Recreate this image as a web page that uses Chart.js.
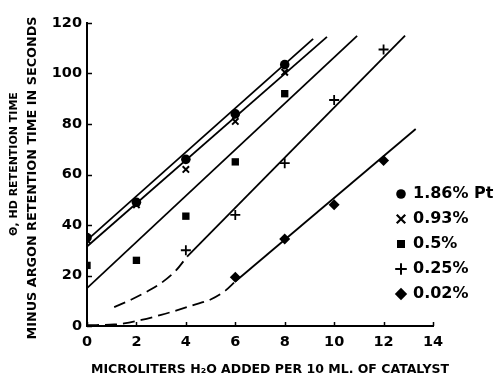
<!DOCTYPE html>
<html>
<head>
<meta charset="utf-8">
<script src="https://cdn.jsdelivr.net/npm/chart.js@4.4.1/dist/chart.umd.min.js"></script>
<style>
html,body{margin:0;padding:0;background:#fff;}
#wrap{position:relative;width:502px;height:382px;}
</style>
</head>
<body>
<div id="wrap"><canvas id="c" width="502" height="382"></canvas></div>
<script>
// ---- Data ----
const xTickValues = [0, 2, 4, 6, 8, 10, 12, 14];
const yTickValues = [0, 20, 40, 60, 80, 100, 120];

const waterHigh = [0, 2, 4, 6, 8];          // µl H2O for 1.86 %, 0.93 %, 0.5 %
const pt186 = [35, 49, 66, 84, 103.5];
const pt093 = [34, 48, 62, 81, 100.5];
const pt05  = [24, 26, 43.5, 65, 92];
const water025 = [4, 6, 8, 10, 12];
const pt025 = [30, 44, 64.5, 89.5, 109.5];
const water002 = [6, 8, 10, 12];
const pt002 = [19.3, 34.5, 48, 65.5];

// hand-drawn curves (end points / traced points)
const fit186X = [0, 9.15];   const fit186Y = [34, 113.7];
const fit093X = [0, 9.71];   const fit093Y = [31.5, 114.5];
const fit05X  = [0, 10.93];  const fit05Y  = [15, 114.9];
const dash025X = [1.1, 1.8, 2.4, 3.0, 3.6, 4.05];
const dash025Y = [7.5, 10.5, 13.5, 17, 22, 27.5];
const fit025X = [4.05, 12.87]; const fit025Y = [27.5, 115];
const dash002X = [0, 1.1, 1.5, 2.2, 3.0, 3.6, 4.3, 5.0, 5.6, 6.0];
const dash002Y = [0.3, 0.6, 1.0, 2.4, 4.4, 6.1, 8.3, 10.5, 14.0, 17.6];
const fit002X = [6.0, 13.3];  const fit002Y = [17.6, 78];

const legendLabels = ['1.86% Pt', '0.93%', '0.5%', '0.25%', '0.02%'];
const legendStyles = ['circle', 'crossRot', 'rect', 'cross', 'rectRot'];

const xTitle = 'MICROLITERS H\u2082O ADDED PER 10 ML. OF CATALYST';
const yTitle1 = '\u0398, HD RETENTION TIME';
const yTitle2 = 'MINUS ARGON RETENTION TIME IN SECONDS';

// ---- helpers ----
const zip = (xs, ys) => xs.map((x, i) => ({x: x, y: ys[i]}));
const FONT = 'DejaVu Sans';

function lineDs(xs, ys, dashed, smooth) {
  return {
    type: 'line', data: zip(xs, ys), showLine: true,
    borderColor: '#000', borderWidth: 1.8, pointRadius: 0,
    borderDash: dashed ? [12, 6] : [], fill: false,
    tension: smooth ? 0.4 : 0, cubicInterpolationMode: smooth ? 'monotone' : 'default',
    order: 2
  };
}
function ptDs(xs, ys, style, r, bw) {
  return {
    type: 'scatter', data: zip(xs, ys), showLine: false,
    pointStyle: style, pointRadius: r, pointHoverRadius: r,
    backgroundColor: '#000', borderColor: '#000', borderWidth: bw,
    order: 1
  };
}

const decor = {
  id: 'decor',
  afterDraw(chart) {
    const ctx = chart.ctx;
    const xs = chart.scales.x, ys = chart.scales.y;
    const area = chart.chartArea;
    ctx.save();
    ctx.strokeStyle = '#000';
    ctx.fillStyle = '#000';
    // inward ticks
    ctx.lineWidth = 1.5;
    yTickValues.forEach(v => {
      const py = Math.round(ys.getPixelForValue(v)) + 0.5;
      ctx.beginPath(); ctx.moveTo(area.left, py); ctx.lineTo(area.left + 5, py); ctx.stroke();
    });
    xTickValues.forEach(v => {
      const px = Math.round(xs.getPixelForValue(v)) + 0.5;
      ctx.beginPath(); ctx.moveTo(px, area.bottom); ctx.lineTo(px, area.bottom - 4); ctx.stroke();
    });
    // axis titles
    ctx.textAlign = 'center';
    ctx.textBaseline = 'middle';
    ctx.font = 'bold 12.5px "' + FONT + '"';
    ctx.fillText(xTitle, 270, 370);
    ctx.save();
    ctx.translate(14, 164);
    ctx.rotate(-Math.PI / 2);
    ctx.font = 'bold 11px "' + FONT + '"';
    ctx.fillText(yTitle1, 0, 0);
    ctx.restore();
    ctx.save();
    ctx.translate(33, 178);
    ctx.rotate(-Math.PI / 2);
    ctx.font = 'bold 12.8px "' + FONT + '"';
    ctx.fillText(yTitle2, 0, 0);
    ctx.restore();
    // legend
    const radii = [4.8, 6, 5.7, 5.8, 6.2];
    const bws = [0, 2.2, 0, 2, 0];
    ctx.textAlign = 'left';
    ctx.font = 'bold 16px "' + FONT + '"';
    legendLabels.forEach((lab, i) => {
      const y = 194 + i * 25;
      ctx.lineWidth = bws[i];
      Chart.helpers.drawPoint(ctx, {pointStyle: legendStyles[i], radius: radii[i], borderWidth: bws[i], rotation: 0}, 401, y);
      ctx.fillText(lab, 413, y);
    });
    ctx.restore();
  }
};

const tickFont = {family: FONT, weight: 'bold', size: 14.5};

new Chart(document.getElementById('c'), {
  type: 'scatter',
  data: {
    datasets: [
      lineDs(fit186X, fit186Y, false, false),
      lineDs(fit093X, fit093Y, false, false),
      lineDs(fit05X, fit05Y, false, false),
      lineDs(dash025X, dash025Y, true, true),
      lineDs(fit025X, fit025Y, false, false),
      lineDs(dash002X, dash002Y, true, true),
      lineDs(fit002X, fit002Y, false, false),
      ptDs(waterHigh, pt186, 'circle', 4.8, 0),
      ptDs(waterHigh, pt093, 'crossRot', 4.5, 2),
      ptDs(waterHigh, pt05, 'rect', 5.2, 0),
      ptDs(water025, pt025, 'cross', 5, 1.8),
      ptDs(water002, pt002, 'rectRot', 5.5, 0)
    ]
  },
  options: {
    responsive: false,
    animation: false,
    devicePixelRatio: 1,
    layout: {padding: {top: 23, right: 69, left: 0, bottom: 0}},
    plugins: {legend: {display: false}, tooltip: {enabled: false}, title: {display: false}},
    scales: {
      x: {
        type: 'linear', min: 0, max: 14,
        ticks: {stepSize: 2, color: '#000', font: tickFont, padding: 8},
        grid: {display: true, drawOnChartArea: false, drawTicks: false},
        border: {display: true, color: '#000', width: 2},
        afterFit: s => { s.height = 56; }
      },
      y: {
        type: 'linear', min: 0, max: 120,
        ticks: {stepSize: 20, color: '#000', font: tickFont, padding: 5},
        grid: {display: true, drawOnChartArea: false, drawTicks: false},
        border: {display: true, color: '#000', width: 2},
        afterFit: s => { s.width = 87; }
      }
    }
  },
  plugins: [decor]
});
</script>
</body>
</html>
